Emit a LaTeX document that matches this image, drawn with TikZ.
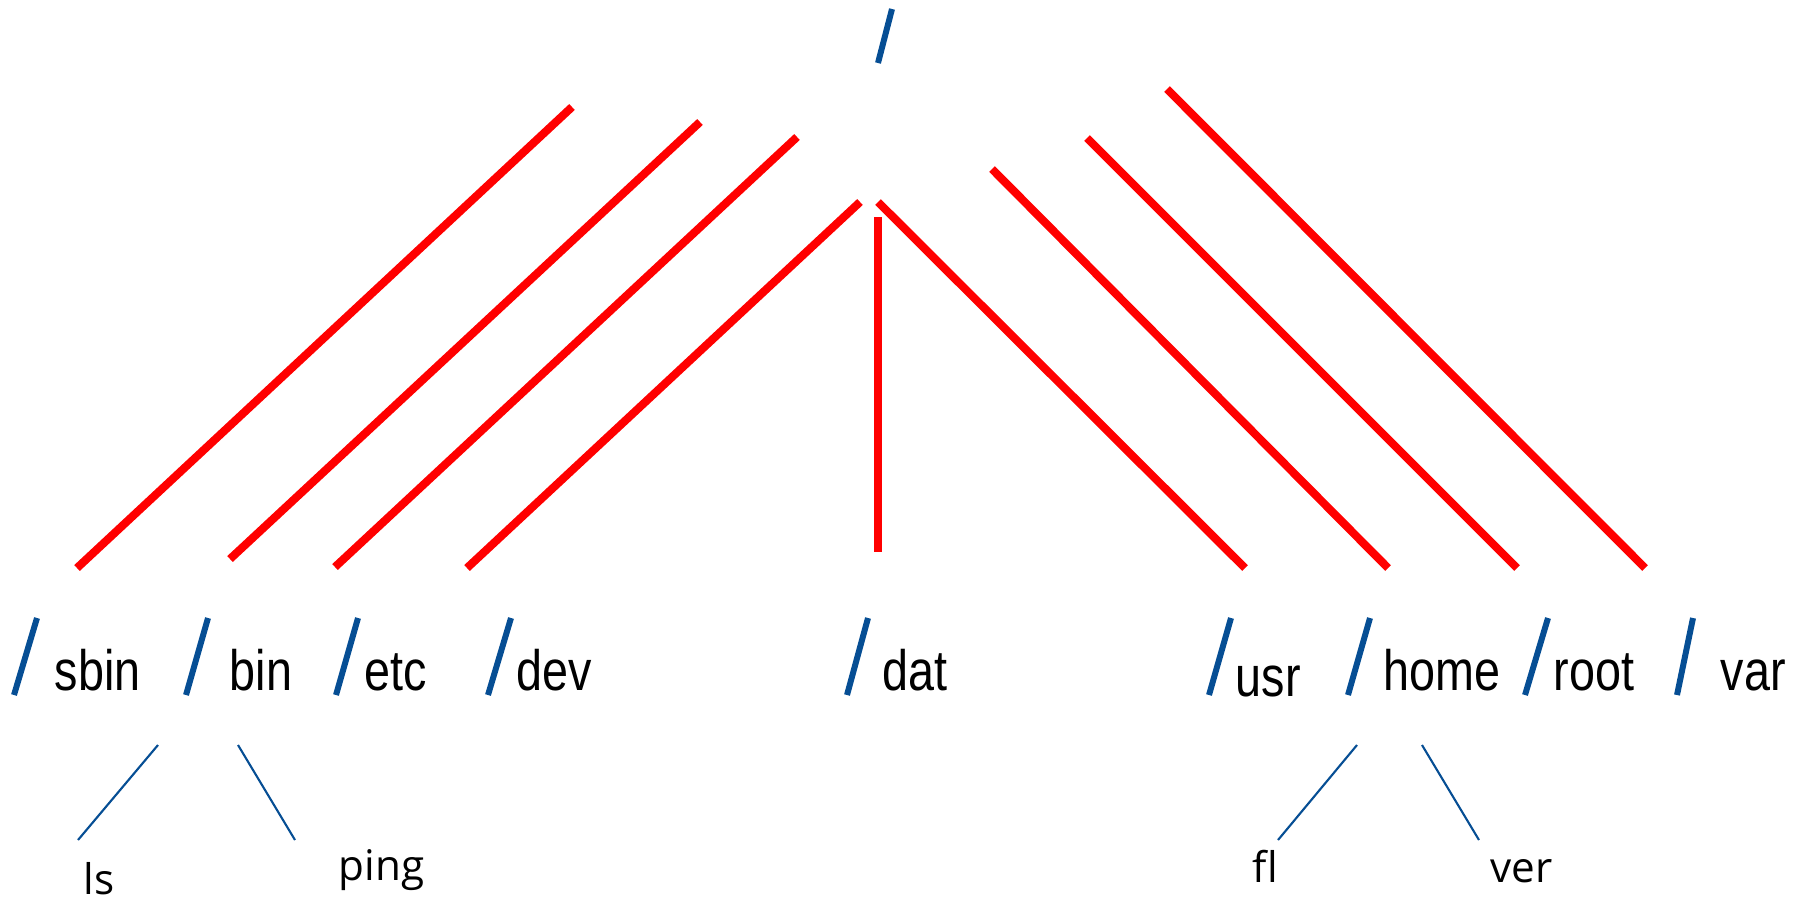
\documentclass[tikz,border=0pt]{standalone}
\usepackage{fontspec}
\setmainfont{Liberation Sans}
\newfontfamily\dirfont[FakeStretch=0.82]{Liberation Sans}
\newfontfamily\filefont[Ligatures=CommonOff]{Open Sans}
\usepackage{xcolor}
\usepackage{tikz}
\usetikzlibrary{positioning}
\definecolor{slashblue}{RGB}{6,78,148}
\definecolor{linkred}{RGB}{255,0,0}

\begin{document}
\begin{tikzpicture}[x=0.01cm,y=-0.01cm,
  dir/.style={font=\dirfont\fontsize{16.2}{19}\selectfont,inner sep=0pt,anchor=base west},
  file/.style={font=\filefont\fontsize{12}{14}\selectfont,inner sep=0pt,anchor=base west},
  sep/.style={draw=slashblue,line width=1.7pt},
  link/.style={draw=linkred,line width=2.3pt},
  leaf/.style={draw=slashblue,line width=0.6pt}]
\useasboundingbox (0,0) rectangle (1794,902);

% root
\draw[sep] (878,63) -- (892,9);

% directories under /
\node[dir] (sbin) at (54,690) {sbin};
\node[dir] (bin) at (229,690) {bin};
\node[dir] (etc) at (364,690) {etc};
\node[dir] (dev) at (516,690) {dev};
\node[dir] (dat) at (882,690) {dat};
\node[dir] (usr) at (1235,696) {usr};
\node[dir] (home) at (1383,690) {home};
\node[dir] (root) at (1553,690) {root};
\node[dir] (var) at (1720,690) {var};
\draw[sep] (14,695) -- (37,618);
\draw[sep] (186,695) -- (208,618);
\draw[sep] (336,695) -- (358,618);
\draw[sep] (488,695) -- (511,618);
\draw[sep] (847,695) -- (868,618);
\draw[sep] (1209,695) -- (1231,618);
\draw[sep] (1348,695) -- (1370,618);
\draw[sep] (1525,695) -- (1548,618);
\draw[sep] (1677,695) -- (1693,618);

% links from the root
\coordinate (l1) at (572,107); \coordinate (l1e) at (77,568);
\coordinate (l2) at (700,122); \coordinate (l2e) at (230,559);
\coordinate (l3) at (797,137); \coordinate (l3e) at (335,567);
\coordinate (l4) at (860,202); \coordinate (l4e) at (467,568);
\coordinate (l5) at (878,217); \coordinate (l5e) at (878,552);
\coordinate (l6) at (878,202); \coordinate (l6e) at (1245,568);
\coordinate (l7) at (992,169); \coordinate (l7e) at (1388,568);
\coordinate (l8) at (1087,138); \coordinate (l8e) at (1517,568);
\coordinate (l9) at (1167,89); \coordinate (l9e) at (1645,568);
\draw[link] (l1) -- (l1e);
\draw[link] (l2) -- (l2e);
\draw[link] (l3) -- (l3e);
\draw[link] (l4) -- (l4e);
\draw[link] (l5) -- (l5e);
\draw[link] (l6) -- (l6e);
\draw[link] (l7) -- (l7e);
\draw[link] (l8) -- (l8e);
\draw[link] (l9) -- (l9e);

% files
\node[file] (ls) at (83,894) {ls};
\node[file] (ping) at (338,880) {ping};
\node[file] (fl) at (1252,882) {fl};
\node[file] (ver) at (1490,882) {ver};
\coordinate (bin-l) at (158,745); \coordinate (bin-r) at (238,745);
\coordinate (home-l) at (1357,745); \coordinate (home-r) at (1422,745);
\draw[leaf] (bin-l) -- (78,840);
\draw[leaf] (bin-r) -- (295,840);
\draw[leaf] (home-l) -- (1278,840);
\draw[leaf] (home-r) -- (1479,840);
\end{tikzpicture}
\end{document}
